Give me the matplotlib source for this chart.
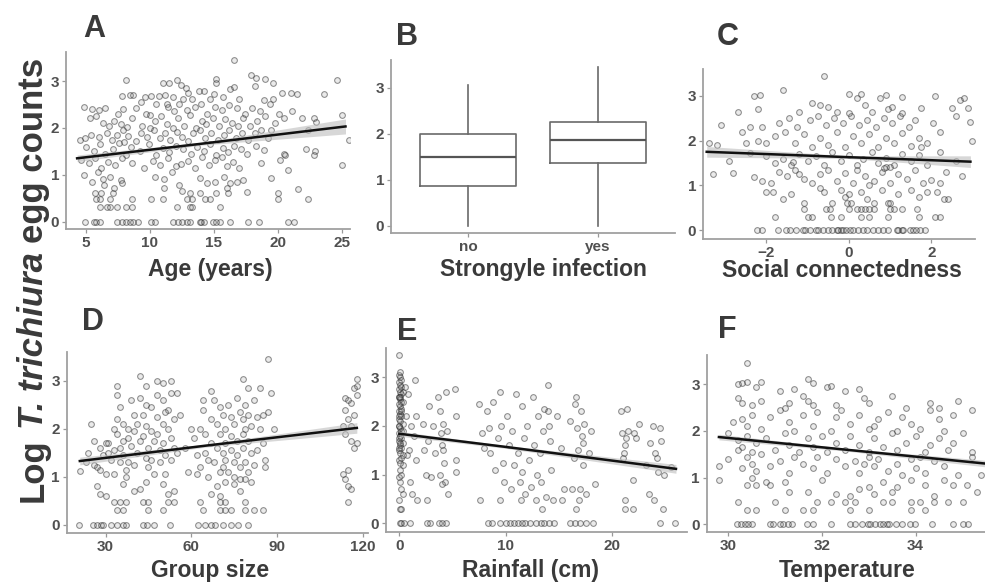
import numpy as np
import matplotlib
matplotlib.use("Agg")
import matplotlib.pyplot as plt

plt.rcParams['font.family'] = ['Liberation Sans', 'DejaVu Sans']
plt.rcParams['font.weight'] = 'bold'

# ---- data ----
# A: age (years) vs log egg count
age_pts = [
    (4.9, 0), (5.6, 0), (5.8, 0), (6.1, 0), (7.4, 0), (7.8, 0), (8.1, 0), (8.4, 0), (8.7, 0), (9.1, 0),
    (10.1, 0), (10.4, 0), (11.8, 0), (12.2, 0), (12.5, 0), (12.9, 0), (13.1, 0), (13.9, 0), (14.0, 0),
    (14.2, 0), (14.96, 0), (15.2, 0), (15.5, 0), (16.3, 0), (17.7, 0), (18.5, 0), (20.8, 0), (21.3, 0),
    (6.1, 0.32), (6.6, 0.32), (6.9, 0.32), (7.4, 0.32), (8.1, 0.32), (8.6, 0.32), (12.1, 0.32),
    (13.1, 0.32), (13.3, 0.32), (15.5, 0.32),
    (5.8, 0.48), (6.1, 0.48), (6.9, 0.48), (8.6, 0.48), (10.1, 0.48), (11.0, 0.48), (12.9, 0.48),
    (13.3, 0.48), (14.3, 0.48), (14.7, 0.48), (20.0, 0.48), (22.4, 0.48),
    (5.7, 0.6), (6.2, 0.6), (7.1, 0.6), (13.1, 0.6), (13.9, 0.6), (15.2, 0.6), (20.0, 0.6), (16.1, 0.6),
    (8.1, 3.02), (11.0, 2.96), (11.5, 2.95), (12.1, 3.02), (15.2, 3.05), (16.6, 3.45), (17.9, 3.12),
    (18.3, 3.06), (19.0, 3.05), (19.6, 2.95), (24.6, 3.02), (12.4, 2.92), (15.2, 2.95),
    (7.8, 2.68), (8.4, 2.7), (8.7, 2.7), (9.6, 2.65), (10.1, 2.68), (10.7, 2.68), (11.2, 2.7),
    (11.8, 2.65), (12.6, 2.62), (13.0, 2.75), (13.3, 2.62), (14.2, 2.78), (14.7, 2.62), (15.0, 2.72),
    (15.7, 2.65), (16.3, 2.82), (16.6, 2.87), (17.0, 2.62), (18.2, 2.9), (18.9, 2.6), (19.6, 2.62),
    (20.3, 2.75), (21.0, 2.75), (21.5, 2.72), (23.6, 2.72), (12.8, 2.85), (11.3, 2.52), (13.8, 2.78),
    (4.8, 2.45), (5.5, 2.4), (6.0, 2.38), (6.5, 2.42), (7.5, 2.3), (7.9, 2.4), (8.9, 2.42), (9.3, 2.55),
    (9.7, 2.3), (10.0, 2.28), (10.5, 2.5), (11.4, 2.45), (11.9, 2.35), (12.3, 2.5), (12.9, 2.38),
    (13.5, 2.45), (14.0, 2.52), (14.5, 2.3), (15.1, 2.45), (15.6, 2.38), (16.2, 2.48), (16.8, 2.42),
    (17.4, 2.3), (18.0, 2.42), (18.6, 2.35), (19.4, 2.5), (20.1, 2.3), (21.1, 2.35), (22.8, 2.22),
    (25.0, 2.28),
    (5.3, 2.2), (5.8, 2.25), (6.3, 2.1), (6.8, 2.05), (7.2, 2.15), (7.7, 2.08), (8.2, 2.02), (8.6, 2.2),
    (9.4, 2.05), (10.0, 2.0), (10.4, 2.15), (10.9, 2.25), (11.3, 2.08), (11.8, 2.0), (12.2, 2.2),
    (12.7, 2.05), (13.1, 2.28), (13.6, 2.0), (14.1, 2.15), (14.4, 2.08), (14.9, 2.22), (15.4, 2.05),
    (15.9, 2.18), (16.4, 2.1), (16.9, 2.05), (17.3, 2.2), (17.8, 2.05), (18.4, 2.15), (19.0, 2.25),
    (19.8, 2.1), (20.5, 2.2), (21.9, 2.2), (23.0, 2.12), (22.4, 1.95),
    (4.9, 1.78), (5.4, 1.85), (6.0, 1.8), (6.6, 1.9), (7.0, 1.75), (7.4, 1.85), (7.9, 1.95), (8.3, 1.82),
    (8.9, 1.72), (9.3, 1.9), (9.8, 1.8), (10.3, 1.95), (10.8, 1.78), (11.2, 1.88), (11.6, 1.75),
    (12.1, 1.92), (12.5, 1.8), (13.0, 1.72), (13.4, 1.88), (13.9, 1.95), (14.3, 1.78), (14.8, 1.9),
    (15.3, 1.75), (15.8, 1.85), (16.2, 1.95), (16.7, 1.78), (17.2, 1.88), (17.7, 1.75), (18.2, 1.9),
    (18.7, 1.95), (19.2, 1.78), (8.0, 1.7), (19.5, 1.95),
    (4.5, 1.75), (5.0, 1.6), (5.6, 1.5), (6.1, 1.65), (6.5, 1.45), (7.1, 1.55), (7.6, 1.68), (8.1, 1.42),
    (8.5, 1.6), (9.2, 1.5), (9.9, 1.65), (10.5, 1.42), (11.0, 1.58), (11.5, 1.48), (12.0, 1.62),
    (12.6, 1.55), (13.2, 1.45), (13.7, 1.6), (14.2, 1.5), (14.7, 1.65), (15.2, 1.42), (15.7, 1.58),
    (16.1, 1.48), (16.6, 1.62), (17.1, 1.55), (17.6, 1.45), (18.3, 1.62), (18.9, 1.52), (22.2, 1.55),
    (22.9, 1.5), (22.8, 1.42), (25.6, 1.75), (20.5, 1.45),
    (4.6, 1.32), (5.2, 1.25), (5.7, 1.35), (6.2, 1.15), (6.7, 1.28), (7.3, 1.2), (7.8, 1.35), (8.6, 1.25),
    (9.5, 1.15), (10.2, 1.3), (10.8, 1.2), (11.4, 1.35), (12.0, 1.18), (12.4, 1.22), (13.0, 1.3),
    (13.5, 1.15), (14.1, 1.38), (14.6, 1.2), (15.1, 1.32), (15.6, 1.38), (16.0, 1.18), (16.5, 1.28),
    (17.0, 1.15), (18.7, 1.25), (20.2, 1.32), (20.6, 1.43), (25.0, 1.2),
    (4.8, 1.0), (5.5, 0.85), (5.9, 1.05), (6.4, 0.78), (6.9, 0.95), (7.2, 0.72), (7.7, 0.88), (10.4, 0.95),
    (11.1, 0.9), (11.7, 1.05), (12.3, 0.78), (13.9, 0.92), (14.5, 0.82), (15.1, 0.85), (15.8, 0.95),
    (16.3, 0.82), (16.8, 0.85), (17.3, 0.88), (17.6, 0.62), (19.5, 0.92), (20.8, 1.1), (21.6, 0.7),
    (11.1, 0.72), (16.0, 0.72), (12.5, 0.65), (7.8, 0.82), (6.3, 0.9),
]

# B: strongyle infection boxplot stats
strongyle_cats = ["no", "yes"]
strongyle_q1 = [0.87, 1.36]
strongyle_med = [1.49, 1.86]
strongyle_q3 = [1.99, 2.25]
strongyle_lo = [0.0, 0.0]
strongyle_hi = [3.05, 3.45]

# C: social connectedness
social_pts = [
    (-2.24, 0), (-2.12, 0), (-1.72, 0), (-1.52, 0), (-1.44, 0), (-1.28, 0), (-1.11, 0), (-1.07, 0),
    (-0.95, 0), (-0.79, 0), (-0.74, 0), (-0.62, 0), (-0.5, 0), (-0.42, 0), (-0.3, 0), (-0.26, 0),
    (-0.18, 0), (-0.14, 0), (-0.06, 0), (0.02, 0), (0.1, 0), (0.23, 0), (0.35, 0), (0.43, 0), (0.59, 0),
    (0.71, 0), (0.83, 0), (0.95, 0), (1.16, 0), (1.2, 0), (1.28, 0), (1.32, 0), (1.48, 0), (1.56, 0),
    (1.64, 0), (1.72, 0), (1.84, 0),
    (-1.79, 0.3), (-1.0, 0.3), (-0.9, 0.3), (-0.43, 0.3), (-0.2, 0.3), (0.3, 0.3), (0.5, 0.3),
    (0.95, 0.3), (1.7, 0.3), (2.1, 0.3), (2.2, 0.3),
    (-1.1, 0.48), (-0.55, 0.48), (-0.45, 0.48), (0.0, 0.48), (0.2, 0.48), (0.3, 0.48), (0.4, 0.48),
    (0.5, 0.48), (0.6, 0.48), (1.0, 0.48), (1.1, 0.48), (1.3, 0.48), (1.65, 0.48),
    (-1.1, 0.6), (-0.4, 0.6), (-0.05, 0.6), (0.05, 0.6), (0.6, 0.6), (0.95, 0.6), (1.0, 0.6),
    (-2.0, 0.85), (-1.85, 0.85), (-1.6, 0.7), (-1.4, 0.8), (-0.7, 0.95), (-0.6, 0.85), (-0.2, 0.9),
    (-0.1, 0.75), (0.0, 0.8), (0.3, 0.85), (0.45, 0.7), (0.8, 0.9), (1.2, 0.8), (1.5, 0.9), (1.7, 0.75),
    (2.15, 0.85), (2.3, 0.7), (2.4, 0.7), (1.9, 0.85),
    (-3.3, 1.25), (-2.8, 1.28), (-2.3, 1.18), (-2.1, 1.1), (-1.9, 1.05), (-1.7, 1.3), (-1.5, 1.2),
    (-1.3, 1.35), (-1.1, 1.15), (-0.9, 1.05), (-0.7, 1.25), (-0.5, 1.35), (-0.3, 1.1), (-0.1, 1.28),
    (0.1, 1.05), (0.2, 1.35), (0.4, 1.2), (0.6, 1.1), (0.8, 1.3), (1.0, 1.05), (1.2, 1.25), (1.4, 1.15),
    (1.6, 1.35), (1.8, 1.05), (2.0, 1.12), (2.2, 1.05), (2.35, 1.3), (2.75, 1.2), (-1.2, 1.25),
    (0.9, 1.4), (0.5, 1.0),
    (-3.4, 1.95), (-3.2, 1.9), (-2.9, 1.55), (-2.4, 1.72), (-2.0, 1.65), (-1.8, 1.5), (-1.6, 1.6),
    (-1.4, 1.45), (-1.2, 1.7), (-1.0, 1.55), (-0.8, 1.65), (-0.6, 1.45), (-0.4, 1.75), (-0.2, 1.55),
    (0.0, 1.68), (0.2, 1.45), (0.35, 1.6), (0.55, 1.75), (0.7, 1.5), (0.9, 1.62), (1.1, 1.45),
    (1.3, 1.7), (1.5, 1.55), (1.7, 1.68), (1.9, 1.45), (2.2, 1.75), (2.6, 1.55), (-1.35, 1.52),
    (0.85, 1.38), (1.0, 1.42),
    (-2.6, 2.2), (-2.2, 2.0), (-2.0, 1.95), (-1.8, 2.1), (-1.55, 2.2), (-1.3, 1.95), (-1.1, 2.15),
    (-0.9, 1.85), (-0.7, 2.05), (-0.5, 1.9), (-0.3, 2.2), (-0.1, 1.85), (0.1, 2.1), (0.3, 1.95),
    (0.5, 2.15), (0.7, 1.85), (0.9, 2.05), (1.1, 1.95), (1.3, 2.18), (1.5, 1.88), (1.7, 2.05),
    (1.9, 1.95), (2.2, 2.2), (3.0, 2.0), (-2.5, 1.95), (1.75, 1.85),
    (-3.1, 2.35), (-2.4, 2.3), (-2.1, 2.3), (-1.7, 2.4), (-1.45, 2.5), (-1.25, 2.3), (-0.95, 2.45),
    (-0.75, 2.55), (-0.55, 2.35), (-0.35, 2.5), (-0.15, 2.4), (0.05, 2.55), (0.25, 2.35), (0.45, 2.45),
    (0.65, 2.3), (0.85, 2.5), (1.05, 2.4), (1.25, 2.55), (1.45, 2.3), (1.6, 2.45), (2.05, 2.4),
    (2.6, 2.55), (2.95, 2.42), (-2.7, 2.65),
    (-2.2, 2.7), (-1.2, 2.65), (-0.9, 2.85), (-0.7, 2.8), (-0.5, 2.75), (0.0, 2.62), (0.2, 2.95),
    (0.4, 2.8), (0.55, 2.65), (0.75, 2.95), (0.95, 2.7), (1.05, 2.75), (1.3, 2.62), (1.75, 2.72),
    (2.5, 2.72), (2.7, 2.9), (2.9, 2.72), (-0.3, 2.65),
    (-2.3, 3.0), (-2.15, 3.02), (-1.6, 3.12), (-0.6, 3.45), (0.0, 3.05), (0.3, 3.05), (0.9, 3.02),
    (1.3, 2.98), (2.1, 3.0), (2.8, 2.95),
]

# D: group size
group_pts = [
    (20.7, 0), (25.6, 0), (27, 0), (28.5, 0), (29.1, 0), (32, 0), (34, 0), (36, 0), (37.2, 0), (43, 0),
    (44.6, 0), (47, 0), (52.7, 0), (62.5, 0), (65, 0), (67, 0), (68.3, 0), (71, 0), (74, 0), (76.4, 0),
    (80, 0),
    (34, 0.3), (36, 0.3), (45, 0.3), (50, 0.3), (64, 0.3), (70, 0.3), (72, 0.3), (74, 0.3), (79, 0.3),
    (82, 0.3), (85, 0.3),
    (33, 0.48), (35, 0.48), (37, 0.48), (43, 0.48), (45, 0.48), (52, 0.48), (54, 0.48), (63, 0.48),
    (70, 0.48), (72, 0.48), (79, 0.48), (115, 0.48),
    (27, 0.8), (28, 0.65), (30, 0.6), (36, 0.85), (40, 0.7), (42, 0.75), (44, 0.9), (50, 0.85),
    (52, 0.65), (54, 0.7), (67, 0.65), (69, 0.8), (70, 0.6), (72, 0.9), (75, 0.85), (77, 0.7),
    (79, 0.95), (81, 0.9), (114, 0.95), (115, 0.8), (116, 0.75),
    (21, 1.12), (23, 1.3), (24, 1.5), (25, 2.1), (26, 1.75), (27, 1.2), (28, 1.6), (29, 1.45),
    (30, 1.05), (31, 1.7), (32, 1.35), (33, 1.55), (34, 2.9), (34, 2.7), (34, 2.2), (34, 1.9),
    (35, 1.6), (35, 1.3), (36, 2.1), (36, 1.45), (37, 1.15), (38, 1.8), (38, 1.3), (39, 2.6),
    (39, 1.65), (40, 2.3), (40, 1.95), (40, 1.25), (33, 1.05), (26, 1.25), (28, 1.15), (31, 1.5),
    (36, 1.75), (33, 2.0), (35, 2.45), (30, 1.7), (38, 2.0), (37, 1.0),
    (41, 2.1), (41, 1.5), (42, 3.1), (42, 2.65), (43, 2.3), (43, 1.85), (44, 2.9), (44, 2.5),
    (44, 2.05), (44, 1.4), (45, 1.6), (45, 1.2), (46, 2.45), (46, 1.95), (47, 1.05), (47, 1.75),
    (48, 3.0), (48, 2.7), (48, 2.25), (48, 1.9), (49, 1.55), (49, 1.3), (50, 2.95), (50, 2.6),
    (50, 2.1), (50, 1.7), (51, 1.45), (51, 1.05), (52, 2.4), (52, 2.0), (53, 3.0), (53, 2.75),
    (53, 1.8), (53, 1.35), (54, 2.2), (54, 1.6), (55, 2.75), (55, 1.5), (56, 2.3), (46, 1.35),
    (42, 1.75), (51, 2.35),
    (58, 1.6), (59, 1.1), (60, 2.0), (61, 1.8), (62, 1.45), (63, 2.0), (63, 1.2), (64, 2.6),
    (64, 2.4), (65, 1.9), (65, 1.5), (66, 1.0), (67, 2.8), (67, 2.2), (67, 1.7), (68, 2.6), (68, 1.3),
    (69, 2.1), (69, 1.6), (70, 2.45), (70, 1.9), (70, 1.1), (62, 1.05), (66, 1.35),
    (71, 2.3), (71, 1.5), (71, 1.2), (72, 2.0), (72, 1.7), (72, 1.35), (73, 2.5), (73, 1.1),
    (74, 2.25), (74, 1.85), (74, 1.55), (75, 2.1), (75, 1.3), (75, 1.0), (76, 2.65), (76, 1.75),
    (76, 1.45), (77, 2.35), (77, 1.2), (78, 3.05), (78, 2.2), (78, 1.9), (78, 1.6), (79, 2.5),
    (79, 2.0), (79, 1.3), (80, 2.85), (80, 2.3), (80, 1.75), (80, 1.1), (81, 2.05), (81, 1.5),
    (82, 2.6), (82, 1.25), (83, 2.25), (84, 2.85), (84, 2.0), (85, 2.3), (85, 1.7), (86, 1.35),
    (87, 3.45), (87, 2.35), (88, 2.75), (89, 2.0), (86, 1.2), (83, 1.55), (77, 0.95),
    (113, 2.05), (113, 1.05), (114, 2.65), (114, 2.4), (114, 1.9), (115, 2.2), (115, 1.15),
    (116, 2.55), (116, 1.75), (117, 2.85), (117, 2.3), (117, 1.6), (118, 3.05), (118, 2.7),
    (118, 1.7), (118, 2.9), (116, 2.05), (115, 2.6),
]

# E: rainfall (cm)
rain_pts = [
    (0.1, 0), (0.2, 0), (0.1, 0.3), (0.2, 0.3), (0.0, 0.48), (0.3, 0.6), (0.2, 0.7), (0.1, 0.85),
    (0.0, 0.95), (0.2, 1.0), (0.1, 1.1), (0.3, 1.2), (0.0, 1.3), (0.2, 1.35), (0.1, 1.45), (0.0, 1.5),
    (0.2, 1.55), (0.1, 1.6), (0.3, 1.65), (0.0, 1.7), (0.2, 1.75), (0.1, 1.8), (0.0, 1.85), (0.2, 1.9),
    (0.1, 1.95), (0.0, 2.0), (0.3, 2.05), (0.1, 2.1), (0.0, 2.15), (0.2, 2.2), (0.1, 2.25), (0.0, 2.3),
    (0.2, 2.35), (0.1, 2.4), (0.0, 2.45), (0.3, 2.5), (0.1, 2.55), (0.0, 2.6), (0.2, 2.65), (0.1, 2.7),
    (0.0, 2.75), (0.2, 2.8), (0.1, 2.85), (0.0, 2.9), (0.2, 2.95), (0.1, 3.0), (0.0, 3.05), (0.1, 3.1),
    (0.0, 3.45), (0.1, 1.25), (0.3, 1.4), (0.0, 1.75), (0.3, 1.9), (0.0, 2.2), (0.2, 2.5), (0.0, 2.6),
    (0.3, 2.7), (0.1, 1.65), (0.0, 2.0), (0.2, 2.3), (0.1, 2.6), (0.0, 1.55),
    (0.5, 2.8), (0.6, 2.2), (0.8, 2.65), (0.9, 1.5), (1.0, 0.85), (1.1, 2.0), (1.2, 0.6), (1.4, 1.8),
    (1.5, 2.95), (1.6, 2.2), (1.6, 1.3), (1.7, 0.48), (0.7, 1.4), (0.4, 0.0), (1.0, 0.0),
    (2.2, 2.05), (2.3, 1.5), (2.5, 1.0), (2.6, 0.48), (2.8, 2.4), (2.7, 1.7), (3.0, 0.95), (3.2, 2.0),
    (3.4, 1.45), (3.6, 2.6), (3.8, 2.3), (3.9, 1.85), (4.0, 1.6), (4.1, 2.05), (4.2, 1.25),
    (4.3, 0.85), (4.4, 2.7), (4.5, 1.9), (4.6, 0.6), (5.2, 2.75), (5.3, 2.2), (5.3, 1.3), (5.3, 1.05),
    (4.1, 1.5), (2.9, 0), (2.6, 0), (3.7, 0), (4.0, 0), (4.4, 0), (4.0, 0.8), (3.8, 1.0),
    (7.5, 2.45), (7.6, 0.48), (7.8, 1.85), (8.0, 1.55), (8.2, 2.3), (8.4, 1.95), (8.5, 1.45),
    (8.8, 2.5), (9.0, 1.1), (9.3, 1.75), (9.5, 2.7), (9.6, 2.0), (9.7, 1.25), (9.8, 0.85), (10.1, 2.2),
    (10.3, 1.6), (10.5, 0.7), (10.6, 1.9), (10.8, 1.2), (11.0, 2.65), (11.2, 1.45), (11.3, 0.85),
    (11.5, 2.4), (11.5, 1.05), (11.7, 1.75), (11.8, 0.6), (12.0, 2.0), (12.2, 1.3), (12.4, 0.75),
    (12.6, 2.6), (12.7, 1.6), (12.9, 1.0), (13.0, 2.2), (13.2, 1.45), (13.3, 0.85), (13.5, 1.9),
    (13.6, 2.35), (13.8, 0.55), (13.4, 0.3), (9.5, 0.48), (11.4, 0.48), (12.8, 0.48),
    (8.3, 0), (8.7, 0), (9.5, 0), (10.0, 0), (10.4, 0), (10.8, 0), (11.2, 0), (11.5, 0), (11.8, 0),
    (12.3, 0), (12.8, 0), (13.3, 0), (13.6, 0), (14.1, 0), (14.5, 0),
    (14.0, 2.85), (14.0, 2.3), (14.1, 2.0), (14.2, 1.7), (14.3, 1.1), (14.4, 0.48), (14.8, 2.2),
    (15.2, 1.55), (15.5, 0.7), (15.3, 0.48), (16.0, 2.1), (16.2, 0.7), (16.4, 1.35), (16.6, 2.6),
    (16.7, 1.95), (16.8, 1.5), (16.9, 0.48), (17.0, 0.7), (17.1, 2.3), (17.2, 1.8), (17.3, 1.2),
    (17.3, 1.65), (17.4, 2.05), (17.5, 0.6), (17.8, 1.45), (18.0, 1.9), (18.4, 0.8), (16.6, 0.3),
    (16.0, 0), (16.5, 0), (17.0, 0), (17.5, 0), (18.2, 0), (16.5, 2.45),
    (20.8, 2.3), (20.9, 1.85), (21.0, 1.35), (21.1, 1.45), (21.2, 1.6), (21.3, 1.75), (21.4, 2.35),
    (21.5, 1.9), (21.2, 0.3), (21.2, 0.48), (22.0, 0.3), (22.0, 0.9), (22.1, 1.85), (22.2, 1.75),
    (23.2, 1.2), (23.5, 0.6), (23.6, 1.65), (23.8, 2.0), (23.9, 0.48), (24.0, 1.45), (24.3, 1.05),
    (24.5, 1.95), (24.6, 1.7), (24.8, 0.3), (24.9, 1.0), (24.5, 0), (25.9, 0), (25.5, 1.15),
    (22.5, 2.05), (24.2, 1.35),
]

# F: temperature
temp_pts = [
    (30.18, 0), (30.28, 0), (30.36, 0), (30.43, 0), (30.5, 0), (30.89, 0), (30.96, 0), (31.1, 0),
    (31.17, 0), (31.28, 0), (31.35, 0), (31.67, 0), (31.81, 0), (32.2, 0), (32.6, 0), (32.7, 0),
    (32.85, 0), (32.99, 0), (33.02, 0), (33.13, 0), (33.24, 0), (33.31, 0), (33.38, 0), (33.42, 0),
    (33.59, 0), (33.7, 0), (33.88, 0), (33.99, 0), (34.34, 0), (34.8, 0), (35.01, 0), (35.12, 0),
    (30.4, 0.3), (30.6, 0.3), (31.2, 0.3), (31.6, 0.3), (31.8, 0.3), (32.6, 0.3), (33.0, 0.3),
    (33.9, 0.3), (34.2, 0.3),
    (30.2, 0.48), (31.0, 0.48), (31.9, 0.48), (32.2, 0.48), (32.5, 0.48), (32.7, 0.48), (33.3, 0.48),
    (33.5, 0.48), (33.9, 0.48), (34.1, 0.48), (34.4, 0.48), (34.7, 0.48), (35.0, 0.48),
    (30.4, 0.85), (30.5, 1.0), (30.6, 0.85), (30.8, 0.9), (30.9, 0.85), (31.2, 0.9), (31.3, 0.7),
    (31.7, 0.7), (32.0, 0.95), (32.3, 0.65), (32.6, 0.6), (32.8, 0.75), (33.0, 0.8), (33.1, 0.65),
    (33.3, 0.9), (33.5, 0.7), (33.6, 0.8), (33.9, 0.95), (34.2, 0.85), (34.4, 0.6), (34.6, 0.95),
    (34.8, 0.85), (35.1, 0.85), (35.3, 0.7), (29.8, 0.95),
    (29.8, 1.25), (30.0, 1.4), (30.2, 1.6), (30.3, 1.2), (30.4, 1.45), (30.5, 1.3), (30.6, 1.15),
    (30.7, 1.5), (30.9, 1.25), (31.1, 1.35), (31.3, 1.1), (31.4, 1.45), (31.6, 1.3), (31.8, 1.2),
    (31.9, 1.45), (32.1, 1.1), (32.3, 1.4), (32.5, 1.25), (32.7, 1.35), (32.8, 1.1), (33.0, 1.45),
    (33.1, 1.25), (33.2, 1.4), (33.4, 1.15), (33.6, 1.3), (33.7, 1.05), (33.9, 1.4), (34.0, 1.2),
    (34.2, 1.1), (34.4, 1.35), (34.6, 1.25), (34.9, 1.05), (35.2, 1.45), (35.4, 1.05), (34.1, 1.45),
    (32.9, 1.3),
    (30.0, 1.95), (30.2, 1.8), (30.3, 1.65), (30.4, 1.9), (30.5, 1.55), (30.6, 1.75), (30.8, 1.85),
    (31.0, 1.6), (31.2, 1.95), (31.3, 1.7), (31.5, 1.55), (31.7, 1.85), (31.8, 1.65), (32.0, 1.9),
    (32.1, 1.55), (32.3, 1.75), (32.5, 1.6), (32.6, 1.9), (32.8, 1.7), (33.0, 1.55), (33.1, 1.85),
    (33.3, 1.65), (33.5, 1.95), (33.6, 1.6), (33.8, 1.75), (34.0, 1.9), (34.2, 1.55), (34.3, 1.7),
    (34.5, 1.85), (34.8, 1.75), (35.0, 1.95), (35.2, 1.55), (34.7, 1.6),
    (30.1, 2.2), (30.3, 2.25), (30.4, 2.1), (30.5, 2.35), (30.7, 2.05), (30.9, 2.3), (31.1, 2.45),
    (31.3, 2.2), (31.4, 2.0), (31.6, 2.35), (31.8, 2.1), (31.9, 2.4), (32.2, 2.0), (32.3, 2.3),
    (32.4, 2.45), (32.6, 2.15), (32.8, 2.35), (33.0, 2.05), (33.2, 2.25), (33.4, 2.4), (33.6, 2.0),
    (33.7, 2.3), (33.9, 2.15), (34.1, 2.05), (34.3, 2.45), (34.5, 2.25), (34.8, 2.35), (35.2, 2.45),
    (34.6, 2.0), (33.1, 2.1),
    (30.2, 2.7), (30.3, 2.6), (30.5, 2.55), (30.6, 2.95), (30.7, 2.65), (31.1, 2.85), (31.3, 2.6),
    (31.4, 2.9), (31.6, 2.75), (31.8, 2.55), (31.7, 2.65), (32.1, 2.95), (32.3, 2.55), (32.5, 2.85),
    (32.8, 2.9), (33.0, 2.6), (33.5, 2.75), (33.8, 2.5), (34.3, 2.6), (34.5, 2.5), (34.9, 2.65),
    (32.9, 2.7), (31.2, 2.5),
    (30.2, 3.0), (30.3, 3.02), (30.4, 3.45), (30.4, 3.05), (30.7, 3.05), (31.7, 3.12), (31.8, 3.02),
    (32.2, 2.97),
]

# fitted lines: x, y and ribbon half-width at left / middle / right
age_fit = ([4.3, 14, 25.3], [1.35, 1.66, 2.03], [0.07, 0.03, 0.16])
social_fit = ([-3.45, 0, 2.95], [1.75, 1.63, 1.53], [0.12, 0.03, 0.13])
group_fit = ([21, 65, 118], [1.33, 1.65, 2.02], [0.08, 0.03, 0.11])
rain_fit = ([0, 10, 26], [1.84, 1.57, 1.12], [0.05, 0.03, 0.09])
temp_fit = ([29.8, 32.5, 35.5], [1.87, 1.6, 1.3], [0.06, 0.03, 0.07])

ylabel_parts = [("Log", 'normal'), ("T. trichiura", 'italic'), ("egg counts", 'normal')]

TXT = '#3a3a3a'
SPINE = '#a0a0a0'


def style(ax, xlim, ylim, xticks):
    for s in ['top', 'right']:
        ax.spines[s].set_visible(False)
    for s in ['left', 'bottom']:
        ax.spines[s].set_color(SPINE)
        ax.spines[s].set_linewidth(1.3)
    ax.set_xlim(*xlim)
    ax.set_ylim(*ylim)
    ax.set_xticks(xticks)
    ax.set_yticks([0, 1, 2, 3])
    ax.tick_params(labelsize=11, labelcolor='#505050', color='#999999', length=3, width=0.9, pad=2)
    ax.patch.set_alpha(0)


def scatter_panel(rect, pts, fit, xlim, ylim, xticks):
    ax = fig.add_axes(rect)
    p = np.array(pts, dtype=float)
    ax.scatter(p[:, 0], p[:, 1], s=17, facecolor=(0.45, 0.45, 0.45, 0.15),
               edgecolor=(0.2, 0.2, 0.2, 0.55), linewidths=0.75, zorder=2)
    fx, fy, fc = (np.array(v, dtype=float) for v in fit)
    ax.fill_between(fx, fy - fc, fy + fc, color='#bdbdbd', alpha=0.6, lw=0, zorder=3)
    ax.plot(fx, fy, color='#111111', lw=1.8, zorder=4)
    style(ax, xlim, ylim, xticks)
    return ax


fig = plt.figure(figsize=(9.85, 5.83), dpi=100)

scatter_panel([0.0670, 0.6072, 0.2883, 0.3036], age_pts, age_fit, (3.43, 25.65), (-0.16, 3.62), [5, 10, 15, 20, 25])

axb = fig.add_axes([0.3970, 0.6009, 0.2883, 0.2962])
stats = []
for i, c in enumerate(strongyle_cats):
    stats.append(dict(label=c, q1=strongyle_q1[i], med=strongyle_med[i], q3=strongyle_q3[i],
                      whislo=strongyle_lo[i], whishi=strongyle_hi[i], fliers=[]))
axb.bxp(stats, positions=[0, 1], widths=0.74, showcaps=False,
        boxprops=dict(color='#6a6a6a', lw=1.2),
        whiskerprops=dict(color='#6a6a6a', lw=1.2),
        medianprops=dict(color='#555555', lw=1.6))
style(axb, (-0.59, 1.59), (-0.145, 3.6), [0, 1])
axb.set_xticklabels(strongyle_cats)

scatter_panel([0.7137, 0.5906, 0.2761, 0.2911], social_pts, social_fit, (-3.54, 3.06), (-0.19, 3.6), [-2, 0, 2])
scatter_panel([0.0677, 0.0858, 0.3056, 0.3110], group_pts, group_fit, (16.4, 121.8), (-0.17, 3.61), [30, 60, 90, 120])
scatter_panel([0.3919, 0.0880, 0.3056, 0.3151], rain_pts, rain_fit, (-1.25, 27.04), (-0.17, 3.6), [0, 10, 20])
scatter_panel([0.7175, 0.0880, 0.2830, 0.3031], temp_pts, temp_fit, (29.54, 35.49), (-0.16, 3.63), [30, 32, 34])

W, H = 985.0, 583.0


def ftext(px, py, s, size, **kw):
    return fig.text(px / W, 1 - py / H, s, fontsize=size, color=TXT, ha='center', va='baseline',
                    fontweight='bold', **kw)


for letter, px, py in [('A', 94, 37), ('B', 407, 45), ('C', 728, 45),
                       ('D', 93, 330), ('E', 407, 340), ('F', 727, 338)]:
    ftext(px, py, letter, 22)

for lab, px, py in [('Age (years)', 210, 276), ('Strongyle infection', 543, 276),
                    ('Social connectedness', 842, 277), ('Group size', 210, 577),
                    ('Rainfall (cm)', 530, 577), ('Temperature', 847, 577)]:
    ftext(px, py, lab, 16.5)

# y label built from pieces so that only the species name is italic
renderer = fig.canvas.get_renderer()
ysize = 25
widths = []
for s, st in ylabel_parts:
    t = fig.text(0, 0, s, fontsize=ysize, fontweight='bold', fontstyle=st)
    widths.append(t.get_window_extent(renderer).width)
    t.remove()
t = fig.text(0, 0, 'a a', fontsize=ysize, fontweight='bold')
gap = t.get_window_extent(renderer).width
t.remove()
t = fig.text(0, 0, 'aa', fontsize=ysize, fontweight='bold')
gap -= t.get_window_extent(renderer).width
t.remove()
total = sum(widths) + gap * (len(widths) - 1)
ypos = (H - 280) - total / 2
for (s, st), w in zip(ylabel_parts, widths):
    fig.text(43 / W, ypos / H, s, fontsize=ysize, fontweight='bold', fontstyle=st, color=TXT,
             rotation=90, rotation_mode='anchor', ha='left', va='baseline')
    ypos += w + gap

fig.savefig('out.png', dpi=100)
